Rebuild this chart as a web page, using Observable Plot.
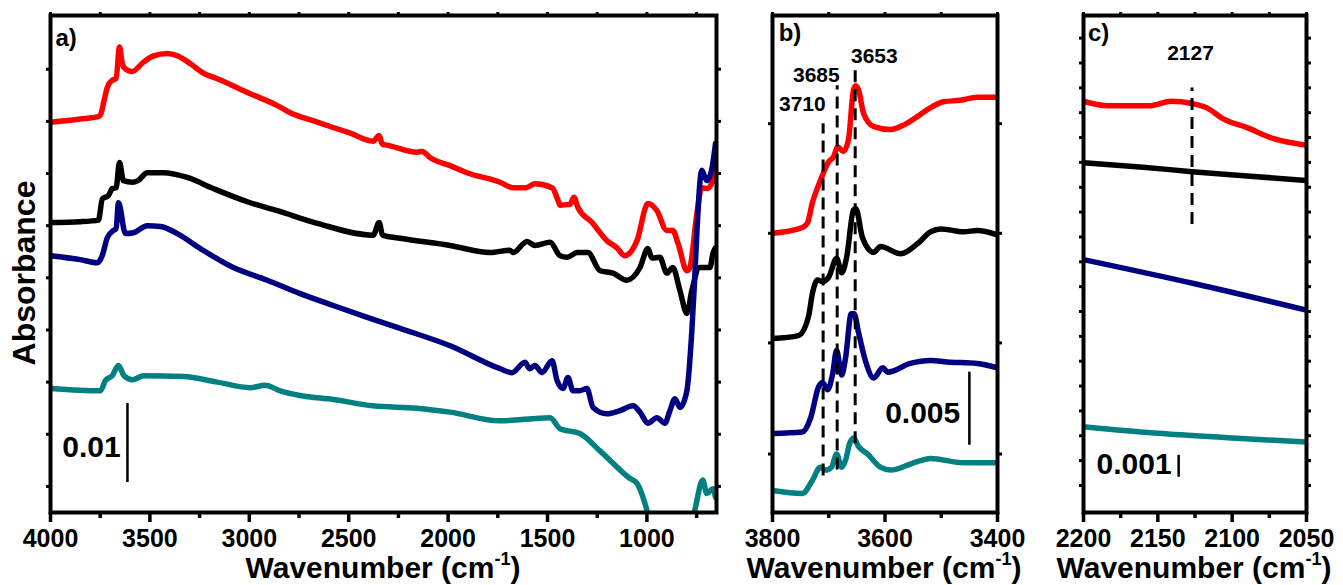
<!DOCTYPE html>
<html><head><meta charset="utf-8">
<script src="https://cdn.jsdelivr.net/npm/d3@7"></script>
<script src="https://cdn.jsdelivr.net/npm/@observablehq/plot@0.6"></script>
<style>
body{margin:0;background:#fff;}
#wrap{position:relative;width:1343px;height:585px;overflow:hidden;font-family:"Liberation Sans",Arial,sans-serif;font-weight:bold;color:#000;}
.panel{position:absolute;top:0;}
.xt{position:absolute;top:553px;font-size:30px;line-height:30px;white-space:nowrap;transform:translateX(-50%);}
.xt span{position:relative;top:-13px;font-size:18px;}
.yt{position:absolute;left:24px;top:273px;font-size:32px;line-height:32px;white-space:nowrap;transform:translate(-50%,-50%) rotate(-90deg);}
</style></head><body><div id="wrap"></div>
<script>
// ---------- data (absorbance in mAbs, offset-stacked as in the figure) ----------
const seriesNames = ["red", "black", "navy", "teal"];
const seriesColors = ["#ff0000", "#000000", "#000080", "#008080"];

// panel a: 4000-650 cm-1
const redA = [[4000,49.4],[3850,49.8],[3760,50.1],[3749,50.3],[3730,52.2],[3714,53.8],[3690,54.7],[3670,54.9],[3653,58.9],[3640,57.0],[3630,56.3],[3590,55.8],[3532,57.0],[3482,57.8],[3412,58.1],[3362,57.8],[3296,56.8],[3231,55.6],[3161,54.9],[2995,53.0],[2859,51.5],[2794,50.6],[2658,49.4],[2492,48.0],[2377,47.0],[2347,47.7],[2330,46.6],[2307,46.5],[2156,45.6],[2131,45.7],[2090,44.9],[1990,43.9],[1905,43.0],[1739,41.8],[1673,41.1],[1610,41.1],[1563,41.6],[1477,41.1],[1447,39.5],[1437,38.9],[1387,39.0],[1367,39.9],[1347,38.6],[1276,36.7],[1201,34.4],[1151,33.5],[1111,32.5],[1050,34.4],[995,39.1],[950,38.2],[900,35.7],[870,35.7],[844,34.1],[799,30.6],[784,31.0],[749,37.8],[724,41.1],[699,41.0],[668,42.0],[655,43.7]];
const blackA = [[4000,36.7],[3850,36.8],[3759,37.0],[3739,39.7],[3709,40.1],[3689,41.0],[3670,41.1],[3653,44.3],[3633,42.0],[3588,41.8],[3560,42.0],[3513,43.0],[3432,43.0],[3312,42.4],[3181,41.0],[2995,39.2],[2859,38.2],[2658,36.6],[2377,35.1],[2347,36.7],[2330,35.1],[2241,34.7],[1990,33.8],[1789,32.9],[1690,33.2],[1673,32.9],[1603,34.3],[1563,33.8],[1487,34.2],[1437,32.5],[1400,32.3],[1352,32.9],[1297,32.9],[1236,30.6],[1171,30.3],[1101,29.4],[1035,31.0],[995,33.4],[975,32.2],[935,32.3],[900,30.3],[870,31.0],[834,28.1],[799,25.2],[774,28.1],[734,31.0],[683,31.0],[668,32.8],[655,33.5]];
const navyA = [[4000,32.5],[3850,32.0],[3764,31.6],[3740,32.5],[3714,34.8],[3683,35.7],[3670,35.9],[3658,39.2],[3623,35.3],[3583,35.4],[3513,36.3],[3447,36.2],[3362,35.3],[3246,33.4],[3080,31.0],[2910,29.4],[2744,27.7],[2578,26.2],[2407,24.7],[2241,23.3],[1990,21.1],[1739,18.2],[1679,17.7],[1613,19.0],[1590,18.2],[1563,18.6],[1528,17.7],[1477,19.2],[1452,16.7],[1422,15.7],[1397,17.1],[1372,15.4],[1340,15.4],[1302,15.7],[1271,13.3],[1201,12.5],[1136,12.9],[1070,13.5],[1035,12.7],[995,11.3],[950,12.0],[910,11.3],[884,12.9],[859,14.4],[834,13.3],[799,15.4],[774,23.0],[760,29.4],[749,35.3],[724,43.3],[699,42.0],[675,43.3],[655,46.7]];
const tealA = [[4000,15.7],[3749,15.4],[3724,16.7],[3690,17.3],[3658,18.6],[3630,17.3],[3588,16.8],[3532,17.3],[3332,17.2],[3161,16.5],[2995,15.8],[2920,16.1],[2844,15.4],[2744,14.8],[2578,14.3],[2377,13.5],[2156,13.2],[1990,12.7],[1739,11.6],[1487,12.0],[1437,10.6],[1337,10.0],[1236,7.8],[1085,4.3],[1050,3.7],[1000,0.3],[960,-4],[800,-4],[759,0.3],[719,4.1],[699,2.4],[668,3.0],[655,1.9]];

// panel b: 3800-3400 cm-1
const redB = [[3800,19.1],[3747,19.5],[3738,19.8],[3729,21.2],[3715,22.7],[3700,24.0],[3692,24.3],[3684,25.0],[3674,24.7],[3665,25.5],[3656,28.9],[3652,29.2],[3647,28.9],[3638,27.3],[3620,26.4],[3590,26.2],[3567,26.5],[3542,27.1],[3519,27.7],[3496,28.1],[3466,28.2],[3436,28.4],[3400,28.4]];
const blackB = [[3800,11.9],[3754,12.1],[3736,13.4],[3729,15.0],[3720,15.9],[3711,15.8],[3700,16.1],[3686,17.4],[3677,16.4],[3668,17.5],[3656,20.7],[3652,20.8],[3640,18.8],[3620,17.8],[3608,18.2],[3572,17.7],[3542,18.4],[3519,19.2],[3501,19.4],[3460,19.2],[3436,19.3],[3400,19.0]];
const navyB = [[3800,5.4],[3747,5.5],[3732,6.5],[3718,8.6],[3711,8.9],[3702,8.4],[3693,9.5],[3686,11.1],[3677,9.4],[3670,10.6],[3660,13.6],[3655,13.6],[3647,12.3],[3635,10.4],[3620,9.2],[3604,9.9],[3595,9.6],[3555,10.2],[3519,10.4],[3490,10.3],[3436,10.2],[3400,9.9]];
const tealB = [[3800,1.5],[3747,1.3],[3729,2.2],[3715,3.1],[3706,2.9],[3695,3.1],[3686,4.0],[3677,3.1],[3670,3.6],[3663,4.7],[3656,5.1],[3647,4.5],[3631,4.0],[3608,3.1],[3590,2.9],[3549,3.4],[3519,3.7],[3460,3.4],[3400,3.4]];

// panel c: 2200-2050 cm-1
const redC = [[2200,18.7],[2184,18.5],[2168,18.5],[2155,18.5],[2141,18.7],[2127,18.6],[2117,18.4],[2106,17.9],[2090,17.5],[2072,17.0],[2050,16.7]];
const blackC = [[2200,15.9],[2160,15.7],[2127,15.5],[2090,15.3],[2050,15.1]];
const navyC = [[2200,11.5],[2125,10.4],[2050,9.2]];
const tealC = [[2200,3.9],[2150,3.6],[2103,3.4],[2050,3.2]];

// tick labels / annotations
const ticksA = [4000, 3500, 3000, 2500, 2000, 1500, 1000];
const minorA = [3750, 3250, 2750, 2250, 1750, 1250, 750];
const ticksB = [3800, 3600, 3400];
const minorB = [3700, 3500];
const ticksC = [2200, 2150, 2100, 2050];
const minorC = [2175, 2125, 2075];
const bandsB = [3710, 3685, 3653];
const bandC = [2127];
const scaleLabels = ["0.01", "0.005", "0.001"];
const panelLabels = ["a)", "b)", "c)"];

// ---------- build ----------
function rows(list) {
  const out = [];
  list.forEach((arr, i) => arr.forEach(([wn, a]) => out.push({wn, a, s: seriesNames[i]})));
  return out;
}
const FONT = '"Liberation Sans", Arial, sans-serif';

function panel({width, ml, mr, xDomain, yMax, major, minor, yTicks, data, extras}) {
  return Plot.plot({
    width, height: 585, marginLeft: ml, marginRight: mr, marginTop: 15, marginBottom: 73,
    x: {domain: xDomain},
    y: {domain: [0, yMax]},
    color: {domain: seriesNames, range: seriesColors},
    style: {fontFamily: FONT, fontWeight: "bold", fontSize: "25px", color: "#000", background: "transparent", overflow: "visible"},
    marks: [
      Plot.line(data, {x: "wn", y: "a", z: "s", stroke: "s", strokeWidth: 5.5, strokeLinejoin: "round", strokeLinecap: "round", curve: "monotone-x", clip: true}),
      ...extras,
      Plot.frame({strokeWidth: 4}),
      Plot.axisX({ticks: major, tickFormat: d => String(d), tickSize: 10, tickPadding: 7, strokeWidth: 3.5, label: null, fontSize: 25, fontWeight: "bold"}),
      Plot.axisX({ticks: minor, tickSize: 6, strokeWidth: 3.5, text: null, label: null}),
      Plot.axisX({anchor: "top", ticks: [...major, ...minor], tickSize: 4, strokeWidth: 3, text: null, label: null}),
      Plot.axisY({anchor: "left", ticks: yTicks, tickSize: 4, strokeWidth: 3, text: null, label: null}),
      Plot.axisY({anchor: "right", ticks: yTicks, tickSize: 4, strokeWidth: 3, text: null, label: null})
    ]
  });
}

const txt = {fontFamily: FONT, fontWeight: "bold", fill: "#000"};

const pA = panel({
  width: 740, ml: 50, mr: 24, xDomain: [4000, 650], yMax: 62.9,
  major: ticksA, minor: minorA, yTicks: d3.range(3.3, 60, 6.6),
  data: rows([redA, blackA, navyA, tealA]),
  extras: [
    Plot.ruleX([3613], {y1: 3.8, y2: 13.8, strokeWidth: 2.5}),
    Plot.text([scaleLabels[0]], {x: 3794, y: 8.3, text: d => d, fontSize: 30, ...txt}),
    Plot.text([panelLabels[0]], {x: 3975, y: 60.0, text: d => d, fontSize: 24, textAnchor: "start", ...txt})
  ]
});

const bandTopB = {3710: 26.6, 3685: 29.2, 3653: 30.4};
const bandBotB = {3710: 2.5, 3685: 2.9, 3653: 4.7};
const bandLabelPos = {3710: [3747, 27.9], 3685: [3722, 29.9], 3653: [3619, 31.2]};

const pB = panel({
  width: 290, ml: 32, mr: 33, xDomain: [3800, 3400], yMax: 34.0,
  major: ticksB, minor: minorB, yTicks: [4.0, 11.6, 19.1, 26.6],
  data: rows([redB, blackB, navyB, tealB]),
  extras: [
    Plot.ruleX(bandsB, {x: d => d, y1: d => bandBotB[d], y2: d => bandTopB[d], strokeWidth: 3, strokeDasharray: "12,7"}),
    Plot.text(bandsB, {x: d => bandLabelPos[d][0], y: d => bandLabelPos[d][1], text: d => String(d), fontSize: 21, ...txt}),
    Plot.ruleX([3450], {y1: 4.6, y2: 9.6, strokeWidth: 2.5}),
    Plot.text([scaleLabels[1]], {x: 3533, y: 6.8, text: d => d, fontSize: 30, ...txt}),
    Plot.text([panelLabels[1]], {x: 3789, y: 32.8, text: d => d, fontSize: 24, textAnchor: "start", ...txt})
  ]
});

const pC = panel({
  width: 313, ml: 53, mr: 37, xDomain: [2200, 2050], yMax: 22.6,
  major: ticksC, minor: minorC, yTicks: d3.range(1.23, 22, 1.13),
  data: rows([redC, blackC, navyC, tealC]),
  extras: [
    Plot.ruleX(bandC, {x: d => d, y1: 13.1, y2: 19.3, strokeWidth: 3, strokeDasharray: "12,7"}),
    Plot.text(bandC, {x: 2128, y: 20.9, text: d => String(d), fontSize: 21, ...txt}),
    Plot.ruleX([2136], {y1: 1.6, y2: 2.6, strokeWidth: 2.5}),
    Plot.text([scaleLabels[2]], {x: 2166, y: 2.2, text: d => d, fontSize: 30, ...txt}),
    Plot.text([panelLabels[2]], {x: 2197, y: 21.8, text: d => d, fontSize: 24, textAnchor: "start", ...txt})
  ]
});

const wrap = document.getElementById("wrap");
[[pA, 0], [pB, 740], [pC, 1030]].forEach(([svg, left]) => {
  const d = document.createElement("div");
  d.className = "panel";
  d.style.left = left + "px";
  d.appendChild(svg);
  wrap.appendChild(d);
});
// axis titles
[[383], [884], [1194]].forEach(([cx]) => {
  const t = document.createElement("div");
  t.className = "xt";
  t.style.left = cx + "px";
  t.innerHTML = "Wavenumber (cm<span>-1</span>)";
  wrap.appendChild(t);
});
const yt = document.createElement("div");
yt.className = "yt";
yt.textContent = "Absorbance";
wrap.appendChild(yt);
</script>
</body></html>
